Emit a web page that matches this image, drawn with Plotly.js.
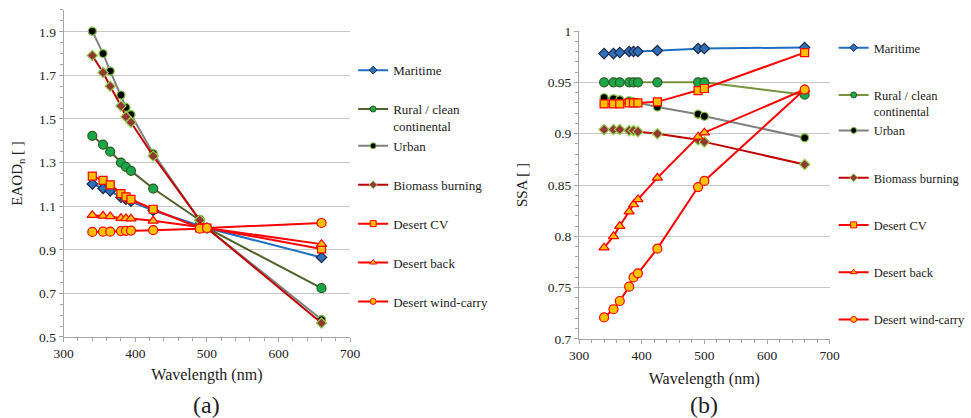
<!DOCTYPE html>
<html>
<head>
<meta charset="utf-8">
<script src="https://cdn.plot.ly/plotly-3.0.1.min.js"></script>
<style>html,body{margin:0;padding:0;background:#fff;}#chart{width:971px;height:418px;}</style>
</head>
<body>
<div id="chart"></div>
<script>
// ---- data ----
const wavelengths = [340, 355, 365, 380, 387, 394, 425, 490, 500, 660];
const seriesNames = ["Maritime", "Rural / clean<br>continental", "Urban", "Biomass burning", "Desert CV", "Desert back", "Desert wind-carry"];

// (a) normalised EAOD
const eaodMaritime   = [1.202, 1.181, 1.170, 1.141, 1.132, 1.123, 1.080, 1.010, 1.000, 0.865];
const eaodRural      = [1.423, 1.382, 1.350, 1.300, 1.280, 1.262, 1.181, 1.036, 1.000, 0.724];
const eaodUrban      = [1.903, 1.800, 1.720, 1.610, 1.553, 1.520, 1.342, 1.035, 1.000, 0.580];
const eaodBiomass    = [1.791, 1.713, 1.650, 1.560, 1.510, 1.485, 1.330, 1.036, 1.000, 0.564];
const eaodDesertCV   = [1.238, 1.218, 1.198, 1.158, 1.143, 1.131, 1.086, 1.000, 1.000, 0.904];
const eaodDesertBack = [1.059, 1.056, 1.053, 1.045, 1.044, 1.043, 1.033, 1.005, 1.000, 0.926];
const eaodDesertWind = [0.982, 0.983, 0.983, 0.986, 0.987, 0.988, 0.990, 0.997, 1.000, 1.023];

// (b) SSA
const ssaMaritime   = [0.978, 0.978, 0.979, 0.980, 0.980, 0.980, 0.981, 0.983, 0.983, 0.984];
const ssaRural      = [0.950, 0.950, 0.950, 0.950, 0.950, 0.950, 0.950, 0.950, 0.950, 0.938];
const ssaUrban      = [0.935, 0.934, 0.933, 0.932, 0.931, 0.930, 0.926, 0.919, 0.917, 0.896];
const ssaBiomass    = [0.904, 0.904, 0.904, 0.903, 0.903, 0.902, 0.900, 0.894, 0.892, 0.870];
const ssaDesertCV   = [0.929, 0.929, 0.929, 0.930, 0.930, 0.930, 0.931, 0.942, 0.944, 0.979];
const ssaDesertBack = [0.789, 0.800, 0.810, 0.824, 0.831, 0.836, 0.857, 0.897, 0.901, 0.943];
const ssaDesertWind = [0.721, 0.729, 0.737, 0.751, 0.760, 0.764, 0.788, 0.848, 0.854, 0.943];

const eaodSeries = [eaodMaritime, eaodRural, eaodUrban, eaodBiomass, eaodDesertCV, eaodDesertBack, eaodDesertWind];
const ssaSeries  = [ssaMaritime, ssaRural, ssaUrban, ssaBiomass, ssaDesertCV, ssaDesertBack, ssaDesertWind];
// legend grouping (Rural and Urban share a block so the two-line entry does not push Urban down)
const legendGroups = ['g0', 'g1', 'g1', 'g3', 'g4', 'g5', 'g6'];

// ---- styles ----
const styles = [
  {line: '#1f6fc0', line2: '#1f6fc0', symbol: 'diamond', fill: '#2e6fb8', edge: '#1a2a4a', size: 8},
  {line: '#4f6228', line2: '#77933c', symbol: 'circle', fill: '#1aa64a', edge: '#2f5a20', size: 9},
  {line: '#808080', line2: '#808080', symbol: 'circle', fill: '#000000', edge: '#7fbf40', size: 8},
  {line: '#c00000', line2: '#c00000', symbol: 'diamond', fill: '#943634', edge: '#92d050', size: 8},
  {line: '#ff0000', line2: '#ff0000', symbol: 'square', fill: '#ffc000', edge: '#ff0000', size: 8},
  {line: '#ff0000', line2: '#ff0000', symbol: 'triangle-up', fill: '#ffc000', edge: '#ff0000', size: 9},
  {line: '#ff0000', line2: '#ff0000', symbol: 'circle', fill: '#ffc000', edge: '#ff0000', size: 9}
];
const LEGEND_MARKER = 6;

const FONT = 'Liberation Serif';
const traces = [];
function addPanel(series, xa, ya, legendId, prefix, lineKey) {
  seriesNames.forEach((name, i) => {
    const s = styles[i];
    traces.push({
      x: wavelengths, y: series[i], name: name, type: 'scatter', mode: 'lines+markers',
      xaxis: xa, yaxis: ya, showlegend: false,
      line: {color: s[lineKey], width: 2},
      marker: {symbol: s.symbol, color: s.fill, size: s.size, line: {color: s.edge, width: 1.2}}
    });
  });
  // legend-only entries with smaller symbols (no data drawn)
  seriesNames.forEach((name, i) => {
    const s = styles[i];
    traces.push({
      x: [null], y: [null], name: name, type: 'scatter', mode: 'lines+markers',
      xaxis: xa, yaxis: ya, legend: legendId, legendgroup: prefix + legendGroups[i],
      line: {color: s[lineKey], width: 2},
      marker: {symbol: s.symbol, color: s.fill, size: LEGEND_MARKER, line: {color: s.edge, width: 1}}
    });
  });
}
addPanel(eaodSeries, 'x', 'y', 'legend', 'a', 'line');
addPanel(ssaSeries, 'x2', 'y2', 'legend2', 'b', 'line2');

const axisCommon = {
  showline: true, linecolor: '#a6a6a6', linewidth: 1,
  ticks: 'outside', ticklen: 4, tickcolor: '#a6a6a6',
  tickfont: {family: FONT, size: 13.5, color: '#222'},
  zeroline: false
};

const layout = {
  width: 971, height: 418,
  margin: {l: 0, r: 0, t: 0, b: 0},
  paper_bgcolor: '#fff', plot_bgcolor: '#fff',
  font: {family: FONT, color: '#222'},
  showlegend: true,
  xaxis: Object.assign({}, axisCommon, {
    domain: [0.0659, 0.3625], range: [300, 700], dtick: 100, tick0: 300, showgrid: false,
    minor: {dtick: 20, ticks: 'outside', ticklen: 3, tickcolor: '#a6a6a6', showgrid: false},
    title: {text: 'Wavelength (nm)', font: {family: FONT, size: 16, color: '#222'}, standoff: 8}
  }),
  yaxis: Object.assign({}, axisCommon, {
    domain: [0.1938, 0.9761], range: [0.5, 2.0], tick0: 0.5, dtick: 0.2,
    showgrid: true, gridcolor: '#c8c8c8', gridwidth: 1,
    minor: {dtick: 0.05, tick0: 0.5, ticks: 'outside', ticklen: 3, tickcolor: '#a6a6a6', showgrid: false},
    title: {text: 'EAOD<sub>n</sub> [ ]', font: {family: FONT, size: 15, color: '#222'}, standoff: 12}
  }),
  xaxis2: Object.assign({}, axisCommon, {
    anchor: 'y2', domain: [0.5994, 0.8589], range: [300, 700], dtick: 100, tick0: 300, showgrid: false,
    minor: {dtick: 20, ticks: 'outside', ticklen: 3, tickcolor: '#a6a6a6', showgrid: false},
    title: {text: 'Wavelength (nm)', font: {family: FONT, size: 16, color: '#222'}, standoff: 10}
  }),
  yaxis2: Object.assign({}, axisCommon, {
    anchor: 'x2', domain: [0.189, 0.9258], range: [0.7, 1.0], tick0: 0.7, dtick: 0.05,
    showgrid: true, gridcolor: '#c8c8c8', gridwidth: 1,
    minor: {dtick: 0.01, tick0: 0.7, ticks: 'outside', ticklen: 3, tickcolor: '#a6a6a6', showgrid: false},
    title: {text: 'SSA [ ]', font: {family: FONT, size: 15, color: '#222'}, standoff: 16}
  }),
  legend: {
    x: 0.3656, xanchor: 'left', y: 0.868, yanchor: 'top',
    font: {family: FONT, size: 13, color: '#222'},
    bgcolor: 'rgba(0,0,0,0)', traceorder: 'grouped', tracegroupgap: 19, valign: 'top'
  },
  legend2: {
    x: 0.863, xanchor: 'left', y: 0.921, yanchor: 'top',
    font: {family: FONT, size: 12.5, color: '#222'},
    bgcolor: 'rgba(0,0,0,0)', traceorder: 'grouped', tracegroupgap: 28, valign: 'top'
  },
  annotations: [
    {text: '(a)', xref: 'paper', yref: 'paper', x: 0.214, y: 0.03, xanchor: 'center', yanchor: 'middle',
     showarrow: false, font: {family: FONT, size: 24, color: '#222'}},
    {text: '(b)', xref: 'paper', yref: 'paper', x: 0.729, y: 0.03, xanchor: 'center', yanchor: 'middle',
     showarrow: false, font: {family: FONT, size: 24, color: '#222'}}
  ]
};

Plotly.newPlot('chart', traces, layout, {displayModeBar: false, staticPlot: true});
</script>
</body>
</html>
